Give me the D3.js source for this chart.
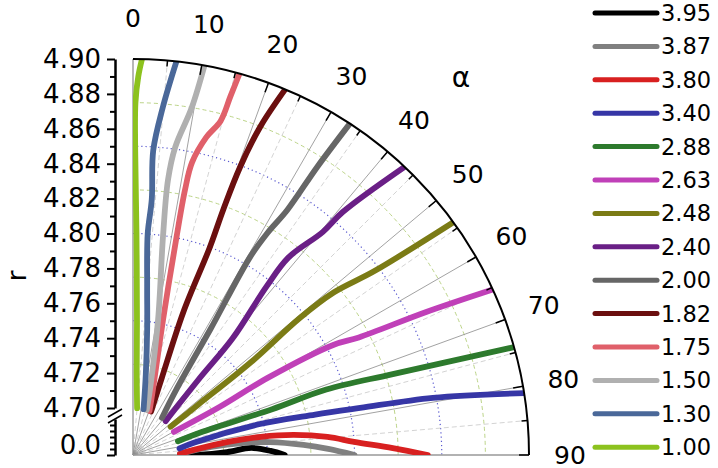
<!DOCTYPE html>
<html>
<head>
<meta charset="utf-8">
<script src="https://cdn.jsdelivr.net/npm/d3@7"></script>
<style>
body { margin: 0; background: #fff; }
text { font-family: "DejaVu Sans", sans-serif; fill: #000; }
</style>
</head>
<body>
<svg id="chart" width="718" height="468"></svg>
<script>
// legend values, top to bottom
const seriesLabels = ['3.95', '3.87', '3.80', '3.40', '2.88', '2.63', '2.48', '2.40', '2.00', '1.82', '1.75', '1.50', '1.30', '1.00']
const seriesColors = ['#000000', '#808080', '#d82020', '#3636a6', '#2d7a2d', '#c040b8', '#7b7b15', '#6a1f86', '#666666', '#6b0f0f', '#e0606a', '#b0b0b0', '#4a6899', '#8cc21e']

// curves as [r, alpha in degrees]
const c395 = [[4.700, 90], [4.710, 89.8], [4.727, 88.2], [4.741, 86.6], [4.752, 88.3], [4.760, 90]]
const c387 = [[4.700, 88.5], [4.718, 84.1], [4.737, 83.8], [4.752, 84.6], [4.771, 86.6], [4.785, 88.2], [4.800, 90]]
const c380 = [[4.700, 88.6], [4.708, 85.2], [4.728, 82.1], [4.747, 81.9], [4.766, 82.9], [4.785, 84.7], [4.800, 86.6], [4.822, 88.5], [4.842, 90]]
const c340 = [[4.700, 82], [4.709, 78.5], [4.748, 76.3], [4.780, 77.5], [4.806, 78.3], [4.848, 79.2], [4.900, 81]]
const c288 = [[4.700, 73], [4.715, 71.5], [4.757, 71.8], [4.790, 71.3], [4.829, 72.7], [4.900, 74.2]]
const c263 = [[4.700, 60.5], [4.730, 61], [4.762, 60.2], [4.804, 61.2], [4.819, 62.5], [4.860, 64], [4.900, 65.3]]
const c248 = [[4.700, 53], [4.720, 52.3], [4.759, 51.8], [4.797, 50.6], [4.821, 51], [4.847, 52.7], [4.900, 54]]
const c240 = [[4.700, 44], [4.730, 41], [4.761, 40.5], [4.796, 38.4], [4.817, 38.2], [4.841, 40.4], [4.857, 40.8], [4.900, 43.3]]
const c200 = [[4.700, 38], [4.718, 33.5], [4.758, 31.6], [4.805, 30.6], [4.822, 31.2], [4.839, 32.2], [4.869, 32.6], [4.900, 33.2]]
const c182 = [[4.700, 22.6], [4.720, 20.5], [4.760, 19.4], [4.800, 20.3], [4.823, 20.2], [4.849, 20.4], [4.875, 21.2], [4.900, 22.6]]
const c175 = [[4.700, 20.5], [4.712, 17], [4.753, 12.5], [4.800, 11.3], [4.828, 11.1], [4.844, 11.4], [4.860, 13], [4.871, 14.7], [4.886, 15.2], [4.900, 15.6]]
const c150 = [[4.700, 17], [4.715, 14], [4.752, 10.5], [4.800, 7.8], [4.832, 7.25], [4.851, 7.8], [4.875, 9.6], [4.900, 10.4]]
const c130 = [[4.700, 13], [4.720, 9], [4.746, 6.4], [4.770, 4.8], [4.800, 3.8], [4.820, 4.2], [4.848, 3.8], [4.873, 4.9], [4.900, 6.3]]
const c100 = [[4.700, 5], [4.720, 2.6], [4.750, 1.7], [4.800, 0.9], [4.850, 0.4], [4.875, 0.4], [4.890, 0.8], [4.900, 1.3]]
const seriesData = [c395, c387, c380, c340, c288, c263, c248, c240, c200, c182, c175, c150, c130, c100]

// ticks and grid
const rTicks = [4.70, 4.72, 4.74, 4.76, 4.78, 4.80, 4.82, 4.84, 4.86, 4.88, 4.90]
const rMinor = [4.71, 4.73, 4.75, 4.77, 4.79, 4.81, 4.83, 4.85, 4.87, 4.89]
const lowTicks = [0.0]
const lowMinor = [0.1, 0.2, 0.3, 0.4, 0.5]
const alphaTicks = [0, 10, 20, 30, 40, 50, 60, 70, 80, 90]
const alphaMinor = [5, 15, 25, 35, 45, 55, 65, 75, 85]
const gridMinor = [4.725, 4.775, 4.825, 4.875]
const gridMajor = [4.75, 4.80, 4.85]

const svg = d3.select('#chart')
const cx = 133, cy = 455
const rScale = d3.scaleLinear().domain([4.70, 4.90]).range([47, 396])
const R = rScale(4.90)
const rad = (a) => a * Math.PI / 180

const plot = svg.append('g').attr('transform', `translate(${cx}, ${cy})`)

svg.append('defs').append('clipPath').attr('id', 'sector')
	.append('path')
	.attr('d', d3.arc()({innerRadius: 0, outerRadius: R, startAngle: 0, endAngle: Math.PI / 2}))

const arcPath = (d) => `M0,${-d}A${d},${d} 0 0 1 ${d},0`

// circle grid
plot.selectAll('.grid-minor')
	.data(gridMinor)
	.enter()
	.append('path')
	.attr('d', (v) => arcPath(rScale(v)))
	.attr('fill', 'none')
	.attr('stroke', '#bcd488')
	.attr('stroke-width', 1)
	.attr('stroke-dasharray', '4,3')

plot.selectAll('.grid-major')
	.data(gridMajor)
	.enter()
	.append('path')
	.attr('d', (v) => arcPath(rScale(v)))
	.attr('fill', 'none')
	.attr('stroke', '#5a5ad0')
	.attr('stroke-width', 1.2)
	.attr('stroke-dasharray', '1.2,3')

// radial grid
plot.selectAll('.spoke-minor')
	.data(alphaMinor)
	.enter()
	.append('line')
	.attr('x1', 0).attr('y1', 0)
	.attr('x2', (a) => R * Math.sin(rad(a)))
	.attr('y2', (a) => -R * Math.cos(rad(a)))
	.attr('stroke', '#c8c8c8')
	.attr('stroke-width', 0.8)
	.attr('stroke-dasharray', '5,3')

plot.selectAll('.spoke-major')
	.data(alphaTicks)
	.enter()
	.append('line')
	.attr('x1', 0).attr('y1', 0)
	.attr('x2', (a) => R * Math.sin(rad(a)))
	.attr('y2', (a) => -R * Math.cos(rad(a)))
	.attr('stroke', (a) => (a === 0 || a === 90) ? '#999' : '#8a8a8a')
	.attr('stroke-width', (a) => (a === 0 || a === 90) ? 1.4 : 0.8)

// curves
const radial = d3.lineRadial()
	.angle((p) => rad(p[1]))
	.radius((p) => rScale(p[0]))
	.curve(d3.curveCatmullRom.alpha(0.5))

plot.append('g')
	.attr('clip-path', 'url(#sector)')
	.selectAll('path')
	.data(seriesData)
	.enter()
	.append('path')
	.attr('d', radial)
	.attr('fill', 'none')
	.attr('stroke', (d, i) => seriesColors[i])
	.attr('stroke-width', 5.8)
	.attr('stroke-linecap', 'round')
	.attr('stroke-linejoin', 'round')

// outer arc and angle ticks
plot.append('path')
	.attr('d', arcPath(R))
	.attr('fill', 'none')
	.attr('stroke', '#000')
	.attr('stroke-width', 2)

plot.selectAll('.tick-major')
	.data(alphaTicks.filter((a) => a > 0))
	.enter()
	.append('line')
	.attr('x1', (a) => R * Math.sin(rad(a)))
	.attr('y1', (a) => -R * Math.cos(rad(a)))
	.attr('x2', (a) => (R - 10) * Math.sin(rad(a)))
	.attr('y2', (a) => -(R - 10) * Math.cos(rad(a)))
	.attr('stroke', '#000')
	.attr('stroke-width', 1.5)

plot.selectAll('.tick-minor')
	.data(alphaMinor)
	.enter()
	.append('line')
	.attr('x1', (a) => R * Math.sin(rad(a)))
	.attr('y1', (a) => -R * Math.cos(rad(a)))
	.attr('x2', (a) => (R - 6) * Math.sin(rad(a)))
	.attr('y2', (a) => -(R - 6) * Math.cos(rad(a)))
	.attr('stroke', '#000')
	.attr('stroke-width', 1.5)

plot.selectAll('.alpha-label')
	.data(alphaTicks)
	.enter()
	.append('text')
	.attr('x', (a) => 437 * Math.sin(rad(a)))
	.attr('y', (a) => -437 * Math.cos(rad(a)))
	.attr('text-anchor', 'middle')
	.attr('dominant-baseline', 'central')
	.style('font-size', '25px')
	.text((a) => a)

plot.append('text')
	.attr('x', 500 * Math.sin(rad(41)))
	.attr('y', -500 * Math.cos(rad(41)))
	.attr('text-anchor', 'middle')
	.attr('dominant-baseline', 'central')
	.style('font-size', '28px')
	.text('α')

// r axis on the left
const axisX = 115
const yScale = d3.scaleLinear().domain([4.70, 4.90]).range([cy - rScale(4.70), cy - R])
const lowScale = d3.scaleLinear().domain([0, 0.6]).range([cy, cy - 36])

const yAxis = svg.append('g')
	.attr('transform', `translate(${axisX}, 0)`)
	.call(d3.axisLeft(yScale).tickValues(rTicks).tickFormat(d3.format('.2f')).tickSize(8).tickSizeOuter(0).tickPadding(6))
yAxis.select('.domain').attr('stroke-width', 2.5)
yAxis.selectAll('.tick line').attr('stroke-width', 2)
yAxis.selectAll('text').style('font-size', '26px').attr('font-family', null)

const yMinor = svg.append('g')
	.attr('transform', `translate(${axisX}, 0)`)
	.call(d3.axisLeft(yScale).tickValues(rMinor).tickFormat('').tickSize(5).tickSizeOuter(0))
yMinor.select('.domain').remove()
yMinor.selectAll('.tick line').attr('stroke-width', 2)

const lowAxis = svg.append('g')
	.attr('transform', `translate(${axisX}, 0)`)
	.call(d3.axisLeft(lowScale).tickValues(lowTicks).tickFormat(d3.format('.1f')).tickSize(8).tickSizeOuter(0).tickPadding(6))
lowAxis.select('.domain').attr('stroke-width', 2.5)
lowAxis.selectAll('.tick line').attr('stroke-width', 2)
lowAxis.selectAll('text').style('font-size', '26px').attr('dy', '-0.05em').attr('font-family', null)

const lowMinorAxis = svg.append('g')
	.attr('transform', `translate(${axisX}, 0)`)
	.call(d3.axisLeft(lowScale).tickValues(lowMinor).tickFormat('').tickSize(5).tickSizeOuter(0))
lowMinorAxis.select('.domain').remove()
lowMinorAxis.selectAll('.tick line').attr('stroke-width', 2)

// axis break
const breakY = cy - rScale(4.70) + 7
svg.append('rect')
	.attr('x', axisX - 3).attr('y', breakY - 2)
	.attr('width', 6).attr('height', 6)
	.attr('fill', '#fff')
svg.selectAll('.break')
	.data([-2, 4])
	.enter()
	.append('line')
	.attr('x1', axisX - 7).attr('y1', (o) => breakY + o + 4)
	.attr('x2', axisX + 7).attr('y2', (o) => breakY + o - 4)
	.attr('stroke', '#000')
	.attr('stroke-width', 1.6)

svg.append('text')
	.attr('transform', 'translate(26, 276) rotate(-90)')
	.attr('text-anchor', 'middle')
	.style('font-size', '26px')
	.text('r')

// legend
const legend = svg.append('g')
	.selectAll('g')
	.data(seriesLabels)
	.enter()
	.append('g')
	.attr('transform', (d, i) => `translate(595, ${13 + i * 33.4})`)

legend.append('line')
	.attr('x1', 0).attr('x2', 62)
	.attr('stroke', (d, i) => seriesColors[i])
	.attr('stroke-width', 5)
	.attr('stroke-linecap', 'round')

legend.append('text')
	.attr('x', 66)
	.attr('dominant-baseline', 'central')
	.style('font-size', '22.5px')
	.text((d) => d)
</script>
</body>
</html>
